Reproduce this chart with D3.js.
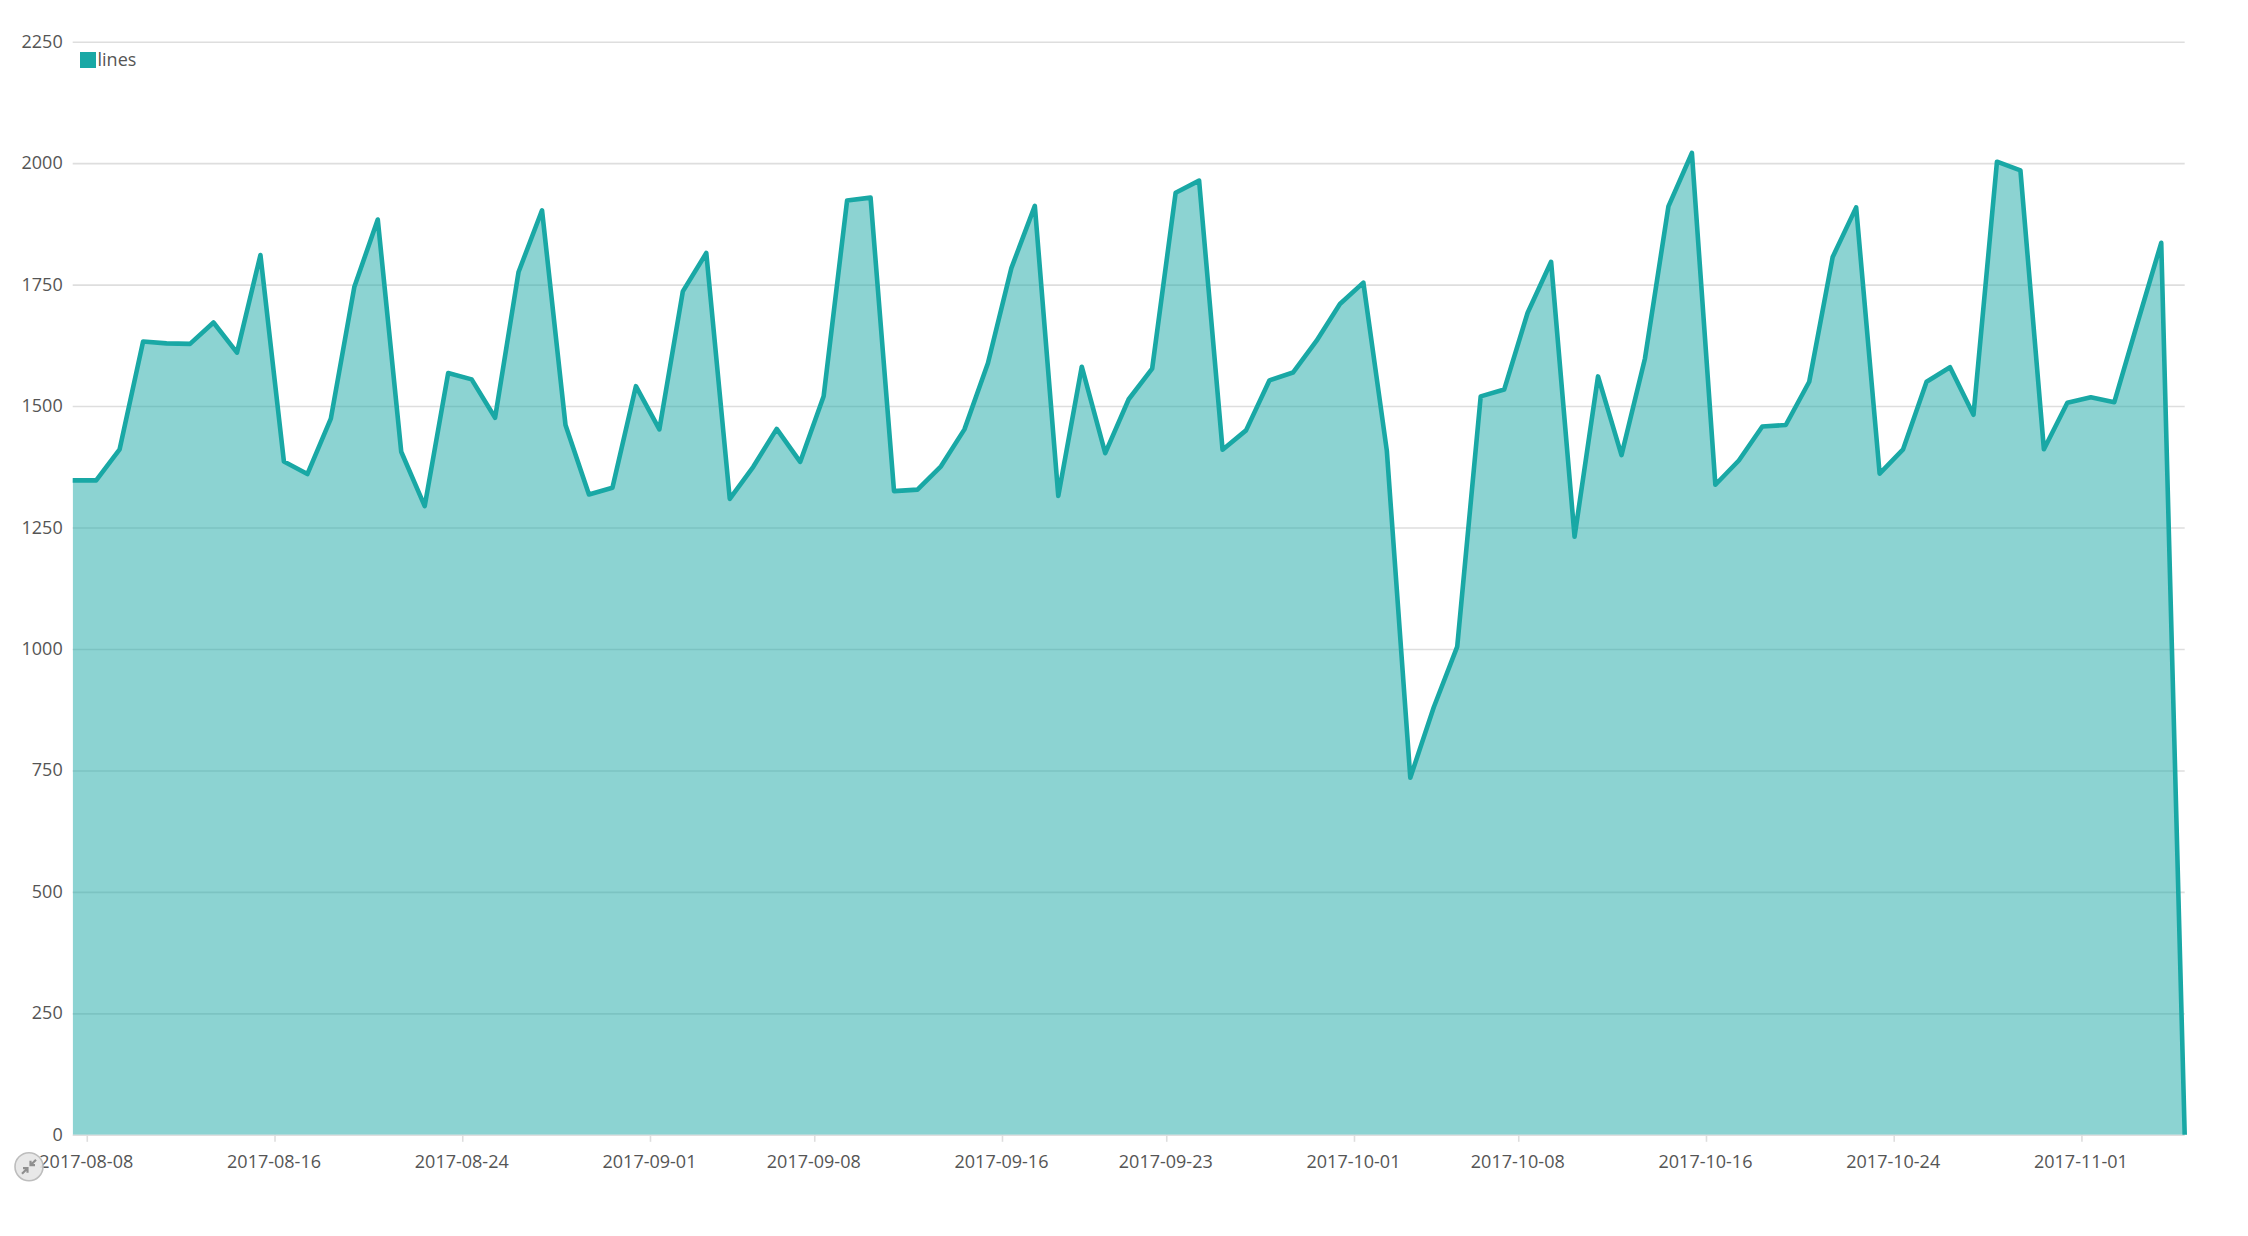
<!DOCTYPE html>
<html>
<head>
<meta charset="utf-8">
<script src="https://cdnjs.cloudflare.com/ajax/libs/d3/7.8.5/d3.min.js"></script>
<style>
html,body{margin:0;padding:0;background:#fff;overflow:hidden}
svg{display:block}
text{font-family:"Open Sans",sans-serif;font-size:18px;fill:#555}
</style>
</head>
<body>
<svg id="chart" width="2248" height="1236"></svg>
<script>
const seriesName = "lines";
const firstPoint = "2017-08-07T09:36:00Z";
const values = [
  1347,1347,1411,1633,1629,1628,1672,1610,1811,1386,
  1360,1474,1745,1884,1406,1294,1568,1555,1476,1776,
  1903,1461,1318,1332,1541,1452,1736,1815,1309,1375,
  1453,1385,1520,1923,1929,1325,1328,1376,1452,1588,
  1784,1912,1315,1581,1403,1514,1577,1939,1964,1410,
  1450,1553,1569,1634,1710,1754,1408,735,880,1005,
  1520,1534,1692,1797,1231,1561,1399,1598,1911,2021,
  1338,1388,1458,1461,1550,1807,1909,1361,1411,1550,
  1580,1482,2003,1985,1411,1507,1518,1508,1673,1836,0
];
const yTicks = [0,250,500,750,1000,1250,1500,1750,2000,2250];
const xTickLabels = ["2017-08-08","2017-08-16","2017-08-24","2017-09-01","2017-09-08","2017-09-16","2017-09-23","2017-10-01","2017-10-08","2017-10-16","2017-10-24","2017-11-01"];

const teal = "#19a8a5";
const gridColor = "#dedede";
const plot = {left:72.7, right:2184.7, top:41.7, bottom:1134.8};

const start = new Date(firstPoint);
const data = values.map((v,i)=>({date:d3.utcDay.offset(start,i), value:v}));

const x = d3.scaleUtc().domain([data[0].date, data[data.length-1].date]).range([plot.left, plot.right]);
const y = d3.scaleLinear().domain([0,2250]).range([plot.bottom, plot.top]);

const svg = d3.select("#chart");

svg.append("defs").append("clipPath").attr("id","plotClip").append("rect")
  .attr("x",plot.left).attr("y",0)
  .attr("width",plot.right-plot.left+3).attr("height",plot.bottom);

// y axis with gridlines
const yAxis = svg.append("g").attr("transform",`translate(${plot.left},0)`)
  .call(d3.axisLeft(y).tickValues(yTicks).tickFormat(d3.format("d")).tickSize(0).tickPadding(10));
yAxis.select(".domain").remove();
yAxis.selectAll("text").attr("dy","5.5px");
yAxis.selectAll(".tick line")
  .attr("x2",plot.right-plot.left)
  .attr("stroke",gridColor).attr("stroke-width",1.6);

// x axis
const xAxis = svg.append("g").attr("transform",`translate(0,${plot.bottom})`)
  .call(d3.axisBottom(x).tickValues(xTickLabels.map(d=>new Date(d+"T00:00:00Z")))
    .tickFormat(d3.utcFormat("%Y-%m-%d")).tickSize(7).tickPadding(13));
xAxis.select(".domain").remove();
xAxis.selectAll(".tick line").attr("stroke",gridColor).attr("stroke-width",1.6);
xAxis.selectAll("text").attr("dy","0.71em").attr("dx","-1px");

// area and line
const area = d3.area().x(d=>x(d.date)).y0(y(0)).y1(d=>y(d.value));
const line = d3.line().x(d=>x(d.date)).y(d=>y(d.value));
const marks = svg.append("g").attr("clip-path","url(#plotClip)");
marks.append("path").datum(data).attr("d",area).attr("fill",teal).attr("fill-opacity",0.5);
marks.append("path").datum(data).attr("d",line).attr("fill","none")
  .attr("stroke",teal).attr("stroke-width",4.6).attr("stroke-linejoin","round").attr("stroke-linecap","round");

// legend
const legend = svg.append("g");
legend.append("rect").attr("x",80).attr("y",52).attr("width",16).attr("height",16).attr("fill",teal);
legend.append("text").attr("x",97.5).attr("y",66).text(seriesName);

// reset-zoom button
const btn = svg.append("g").attr("transform","translate(29,1166.7)");
btn.append("circle").attr("r",14).attr("fill","#e6e6e6").attr("fill-opacity",0.92).attr("stroke","#bdbdbd").attr("stroke-width",1.6);
btn.append("path").attr("d","M-7,7 L-1.5,1.5 M-1.5,6 L-1.5,1.5 L-6,1.5 M7,-7 L1.5,-1.5 M1.5,-6 L1.5,-1.5 L6,-1.5")
  .attr("fill","none").attr("stroke","#8f8f8f").attr("stroke-width",2.2);
</script>
</body>
</html>
